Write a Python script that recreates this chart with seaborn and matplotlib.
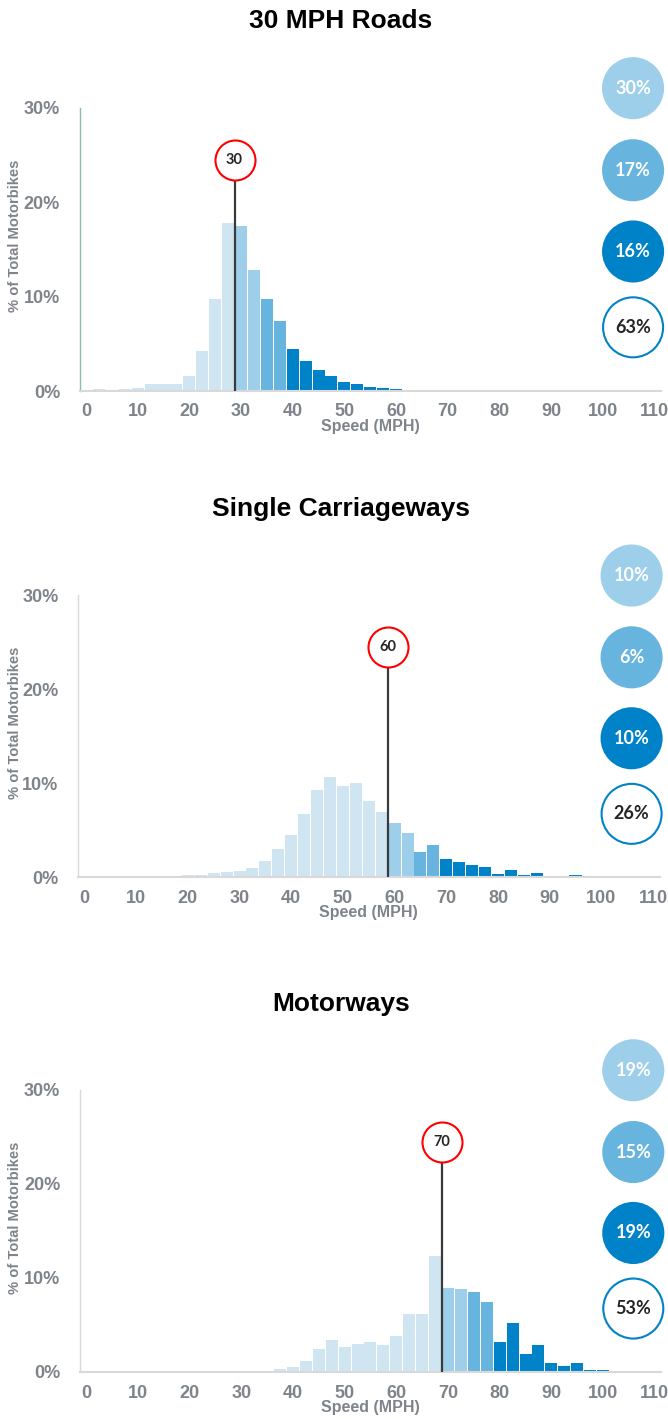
import matplotlib
matplotlib.use("Agg")
import matplotlib.pyplot as plt
import numpy as np
import pandas as pd
import seaborn as sns

# speed bins (mph), 2.5 mph wide
speeds = [0, 2.5, 5, 7.5, 10, 12.5, 15, 17.5, 20, 22.5, 25, 27.5, 30, 32.5, 35, 37.5,
          40, 42.5, 45, 47.5, 50, 52.5, 55, 57.5, 60, 62.5, 65, 67.5, 70, 72.5, 75, 77.5,
          80, 82.5, 85, 87.5, 90, 92.5, 95, 97.5, 100, 102.5, 105, 107.5, 110]

# % of motorbikes per bin
pct_30mph = [0.0, 0.2, 0.1, 0.2, 0.3, 0.7, 0.75, 0.7, 1.6, 4.2, 9.7, 17.8, 17.5, 12.8, 9.7, 7.4,
             4.4, 3.2, 2.2, 1.6, 1.0, 0.75, 0.45, 0.28, 0.18, 0.12, 0.05, 0.05, 0.05, 0.04, 0.03, 0.02,
             0.02, 0.02, 0.02, 0.01, 0.01, 0.01, 0.01, 0.01, 0.01, 0.01, 0.01, 0.01, 0.01]
pct_single = [0.03, 0.05, 0.07, 0.1, 0.12, 0.12, 0.12, 0.15, 0.2, 0.28, 0.42, 0.53, 0.67, 1.03, 1.74, 3.05,
              4.5, 6.7, 9.3, 10.7, 9.7, 10.0, 8.1, 6.9, 5.75, 4.75, 2.73, 3.4, 1.91, 1.6, 1.35, 1.06,
              0.35, 0.74, 0.21, 0.43, 0.14, 0.1, 0.2, 0.1, 0.07, 0.05, 0.03, 0.03, 0.02]
pct_motorway = [0.02, 0.02, 0.02, 0.02, 0.02, 0.02, 0.02, 0.02, 0.02, 0.02, 0.02, 0.02, 0.02, 0.04, 0.1, 0.28,
                0.53, 1.13, 2.48, 3.44, 2.66, 3.0, 3.15, 2.9, 3.87, 6.13, 6.17, 12.3, 8.9, 8.83, 8.48, 7.48,
                3.19, 5.21, 1.95, 2.87, 0.96, 0.67, 1.0, 0.25, 0.18, 0.1, 0.07, 0.04, 0.02]

titles = ["30 MPH Roads", "Single Carriageways", "Motorways"]
limits = [30, 60, 70]
# summary circles: 0-5 over, 5-10 over, 10+ over, total over the limit
summary = [[30, 17, 16, 63], [10, 6, 10, 26], [19, 15, 19, 53]]

bands = ["under", "over_0_5", "over_5_10", "over_10"]
band_colors = {"under": "#cfe5f2", "over_0_5": "#9dcfea", "over_5_10": "#67b4df", "over_10": "#0082c8"}
grey = "#7f848b"

sns.set_theme(style="white")
plt.rcParams["font.family"] = ["Liberation Sans", "DejaVu Sans"]

W, H = 668, 1419
fig = plt.figure(figsize=(W / 100, H / 100), dpi=100)

# pixel layout: left, top, bottom of each plot area
rects = [(79.5, 108, 391), (78, 595.3, 877.3), (79.7, 1090, 1372)]
left_spine = ["#8fbcae", "#d9d9d9", "#d9d9d9"]


def band_of(s, lim):
    if s < lim:
        return "under"
    if s < lim + 5:
        return "over_0_5"
    if s < lim + 10:
        return "over_5_10"
    return "over_10"


for i, pct in enumerate([pct_30mph, pct_single, pct_motorway]):
    lim = limits[i]
    left, top, bottom = rects[i]
    ax = fig.add_axes([left / W, 1 - bottom / H, 581.5 / W, (bottom - top) / H])

    df = pd.DataFrame({"speed": speeds, "pct": pct})
    df["band"] = [band_of(s, lim) for s in speeds]

    # thin white gaps between bars, no outline so the tiny bars stay visible
    sns.barplot(data=df, x="speed", y="pct", hue="band", hue_order=bands,
                palette=band_colors, native_scale=True, dodge=False, width=0.93,
                saturation=1, errorbar=None, linewidth=0, legend=False, ax=ax)

    ax.set_xlim(-1.25, 111.25)
    ax.set_ylim(0, 30)
    ax.set_xticks(range(0, 111, 10))
    ax.set_xticklabels([str(v) for v in range(0, 111, 10)])
    ax.set_yticks([0, 10, 20, 30])
    ax.set_yticklabels(["0%", "10%", "20%", "30%"])
    ax.tick_params(axis="both", length=0, labelsize=13, labelcolor=grey)
    ax.tick_params(axis="x", pad=9)
    ax.tick_params(axis="y", pad=14)
    for lab in ax.get_xticklabels() + ax.get_yticklabels():
        lab.set_fontweight("bold")

    for s in ["top", "right"]:
        ax.spines[s].set_visible(False)
    ax.spines["left"].set_color(left_spine[i])
    ax.spines["left"].set_linewidth(1.0)
    ax.spines["bottom"].set_color("#d9d9d9")
    ax.spines["bottom"].set_linewidth(1.5)

    ax.set_xlabel("Speed (MPH)", fontsize=11.5, fontweight="bold", color=grey, labelpad=-1)
    ax.set_ylabel("% of Total Motorbikes", fontsize=10.6, fontweight="bold", color=grey, va="center")
    ax.yaxis.set_label_coords((15.5 - left) / 581.5, 0.547)

    # speed limit marker
    xl = lim - 1.25
    ax.vlines(xl, 0, 22.4, color="#3a3a3a", lw=1.6, zorder=4)
    ax.scatter([xl], [24.5], s=(40 * 0.72) ** 2, facecolor="white", edgecolor="#ff0000",
               linewidth=1.5, zorder=5, clip_on=False)
    ax.text(xl, 24.5, str(lim), ha="center", va="center", fontsize=10.5, fontweight="bold",
            color="#262626", family=["Lato", "DejaVu Sans"], zorder=6)

    # summary circles
    cy = [1.07, 0.78, 0.493, 0.225]
    fills = [band_colors["over_0_5"], band_colors["over_5_10"], band_colors["over_10"], "white"]
    edges = [band_colors["over_0_5"], band_colors["over_5_10"], band_colors["over_10"], "#0082c8"]
    ax.scatter([0.952] * 4, cy, transform=ax.transAxes, s=(60 * 0.72) ** 2, c=fills,
               edgecolors=edges, linewidths=1.5, clip_on=False, zorder=5)
    for j, v in enumerate(summary[i]):
        ax.text(0.952, cy[j], f"{v}%", transform=ax.transAxes, ha="center", va="center",
                fontsize=13, fontweight="bold", color="white" if j < 3 else "#262626",
                family=["Lato", "DejaVu Sans"], zorder=6)

    fig.text(341 / W, 1 - (top - 86.5) / H, titles[i], ha="center", va="center",
             fontsize=19, fontweight="bold", color="black")

fig.savefig("out.png", dpi=100)
